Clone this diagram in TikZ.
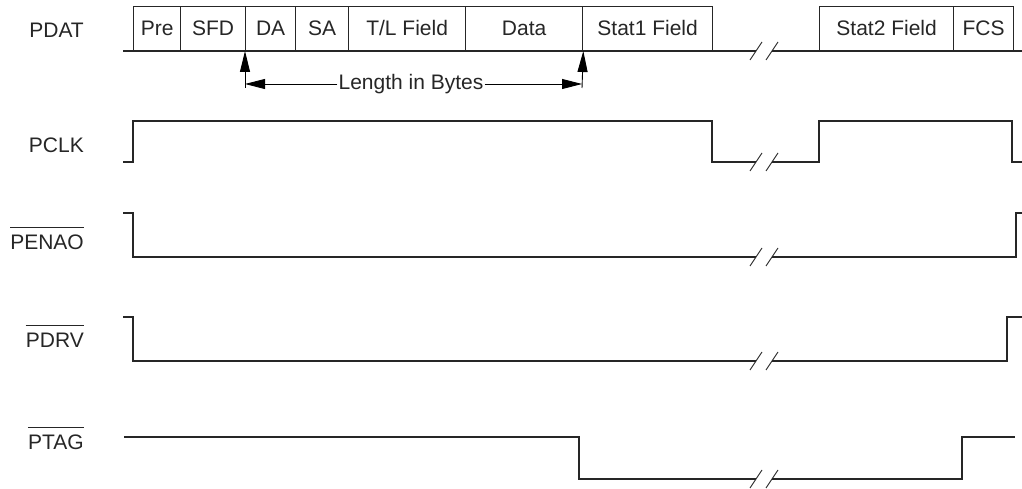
\documentclass[tikz,border=0pt]{standalone}
\usepackage{fontspec}
\setmainfont{Liberation Sans}
\usetikzlibrary{arrows.meta}
\begin{document}
\begin{tikzpicture}[x=1pt,y=-1pt,
  every node/.style={font=\fontsize{21}{24}\selectfont, inner sep=0pt},
  wave/.style={line width=1.3pt, line join=miter, color=black!85},
  field/.style={draw, line width=1.3pt, color=black!85, text=black!85, minimum height=44pt, anchor=south west},
  sig/.style={anchor=east, text=black!85},
  brk/.style={line width=0.9pt, color=black!85},
  meas/.style={line width=0.9pt, -{Triangle[length=21pt,width=10pt]}},
  dim/.style={line width=0.9pt, -{Triangle[length=20pt,width=10pt]}}
]
\useasboundingbox (0,0) rectangle (1022,489);

% signal labels
\node[sig] (lpdat) at (84,30) {PDAT};
\node[sig] (lpclk) at (84,145) {PCLK};
\node[sig] (lpenao) at (84,242) {PENAO};
\node[sig] (lpdrv) at (84,340) {PDRV};
\node[sig] (lptag) at (84,442) {PTAG};
\foreach \n in {lpenao,lpdrv,lptag}
  \draw[line width=1pt, color=black!85] ([yshift=7pt]\n.north west) -- ([yshift=7pt]\n.north east);

% PDAT fields
\node[field, minimum width=47pt] (pre) at (133,51) {Pre};
\node[field, minimum width=65pt] (sfd) at (180,51) {SFD};
\node[field, minimum width=50pt] (da) at (245,51) {DA};
\node[field, minimum width=53pt] (sa) at (295,51) {SA};
\node[field, minimum width=117pt] (tl) at (348,51) {T/L Field};
\node[field, minimum width=117pt] (data) at (465,51) {Data};
\node[field, minimum width=130pt] (stat1) at (582,51) {Stat1 Field};
\node[field, minimum width=134pt] (stat2) at (819,51) {Stat2 Field};
\node[field, minimum width=60pt] (fcs) at (953,51) {FCS};

% PDAT baseline
\draw[wave] (123,51) -- (756,51);
\draw[wave] (772,51) -- (1022,51);

% measurement
\coordinate (m1) at (245,88);
\coordinate (m2) at (582,88);
\draw[meas] (m1) -- (da.south west);
\draw[meas] (m2) -- (data.south east);
\node[text=black!85] (len) at (411,84) {Length in Bytes};
\draw[dim] ([xshift=-1pt]len.west) -- (245,84);
\draw[dim] ([xshift=1pt]len.east) -- (582,84);

% PCLK
\draw[wave] (123,162) -- (133,162) -- (133,121) -- (712,121) -- (712,162) -- (756,162);
\draw[wave] (772,162) -- (819,162) -- (819,121) -- (1012,121) -- (1012,162) -- (1022,162);

% PENAO
\draw[wave] (123,213) -- (133,213) -- (133,257) -- (756,257);
\draw[wave] (772,257) -- (1016,257) -- (1016,213) -- (1022,213);

% PDRV
\draw[wave] (123,317) -- (133,317) -- (133,361) -- (756,361);
\draw[wave] (772,361) -- (1007,361) -- (1007,317) -- (1022,317);

% PTAG
\draw[wave] (124,437) -- (579,437) -- (579,479) -- (756,479);
\draw[wave] (772,479) -- (962,479) -- (962,437) -- (1015,437);

% break marks
\foreach \y in {51,162,257,361,479} {
  \draw[brk] (750,\y+9) -- (762,\y-9);
  \draw[brk] (766,\y+9) -- (778,\y-9);
}
\end{tikzpicture}
\end{document}
